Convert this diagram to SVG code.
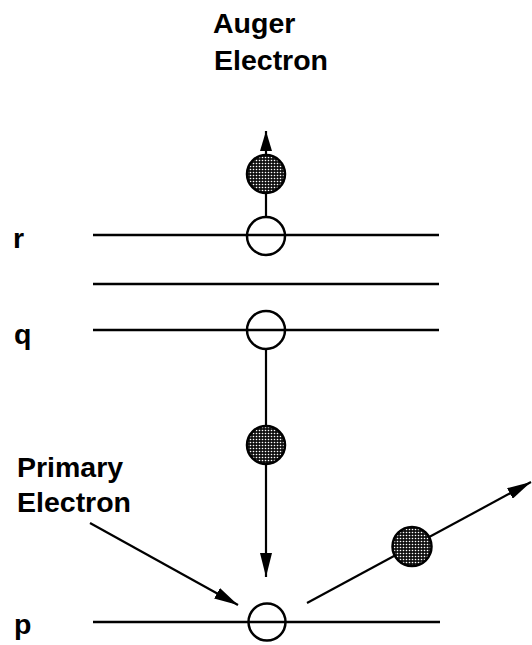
<svg xmlns="http://www.w3.org/2000/svg" width="532" height="645" viewBox="0 0 532 645">
  <style>
    .lbl { font-family: "Liberation Sans", Arial, sans-serif; font-weight: bold; font-size: 28.5px; fill: #000; }
    .level { stroke: #000; stroke-width: 2.5; fill: none; }
    .hole { stroke: #000; stroke-width: 2.5; fill: none; }
    .electron { stroke: #000; stroke-width: 2.5; fill: url(#stipple); }
    .path { stroke: #000; stroke-width: 2.2; fill: none; }
  </style>
  <defs>
    <pattern id="stipple" patternUnits="userSpaceOnUse" width="3" height="3">
      <rect width="3" height="3" fill="#111"/>
      <circle cx="1.5" cy="1.5" r="0.8" fill="#fff"/>
    </pattern>
    <marker id="head" markerUnits="userSpaceOnUse" markerWidth="26" markerHeight="12" refX="24" refY="6" orient="auto">
      <path d="M0,0 L24,6 L0,12 Z" fill="#000"/>
    </marker>
    <marker id="headUp" markerUnits="userSpaceOnUse" markerWidth="22" markerHeight="12" refX="20" refY="6" orient="auto">
      <path d="M0,0 L20,6 L0,12 Z" fill="#000"/>
    </marker>
  </defs>
  <rect width="532" height="645" fill="#fff"/>

  <!-- energy levels -->
  <g id="levels">
    <line class="level" x1="93" y1="235" x2="439" y2="235"/>
    <line class="level" x1="93" y1="284" x2="439" y2="284"/>
    <line class="level" x1="93" y1="330" x2="439" y2="330"/>
    <line class="level" x1="93" y1="622" x2="440" y2="622"/>
  </g>

  <g id="level-labels">
    <text class="lbl" x="13" y="248">r</text>
    <text class="lbl" x="14" y="344">q</text>
    <text class="lbl" x="14" y="634">p</text>
  </g>

  <!-- connectors -->
  <g id="connectors">
    <line class="path" x1="266" y1="155" x2="266" y2="131" marker-end="url(#headUp)"/>
    <line class="path" x1="266" y1="193" x2="266" y2="216"/>
    <line class="path" x1="266" y1="349" x2="266" y2="425"/>
    <line class="path" x1="266" y1="464" x2="266" y2="577" marker-end="url(#head)"/>
    <line class="path" x1="90" y1="523" x2="238" y2="605" marker-end="url(#head)"/>
    <line class="path" x1="307" y1="603" x2="531" y2="482" marker-end="url(#head)"/>
  </g>

  <!-- vacancies -->
  <g id="hole-r"><circle class="hole" cx="266" cy="236" r="19"/></g>
  <g id="hole-q"><circle class="hole" cx="266" cy="330" r="19"/></g>
  <g id="hole-p"><circle class="hole" cx="267" cy="622" r="18.5"/></g>

  <!-- electrons -->
  <g id="auger-electron"><circle class="electron" cx="266" cy="174" r="19"/></g>
  <g id="transition-electron"><circle class="electron" cx="266" cy="445" r="19"/></g>
  <g id="scattered-electron"><circle class="electron" cx="412" cy="546.5" r="19.5"/></g>

  <g id="auger-label">
    <text class="lbl" x="213" y="33">Auger</text>
    <text class="lbl" x="214" y="70">Electron</text>
  </g>
  <g id="primary-label">
    <text class="lbl" x="17" y="477">Primary</text>
    <text class="lbl" x="17" y="512">Electron</text>
  </g>
</svg>
